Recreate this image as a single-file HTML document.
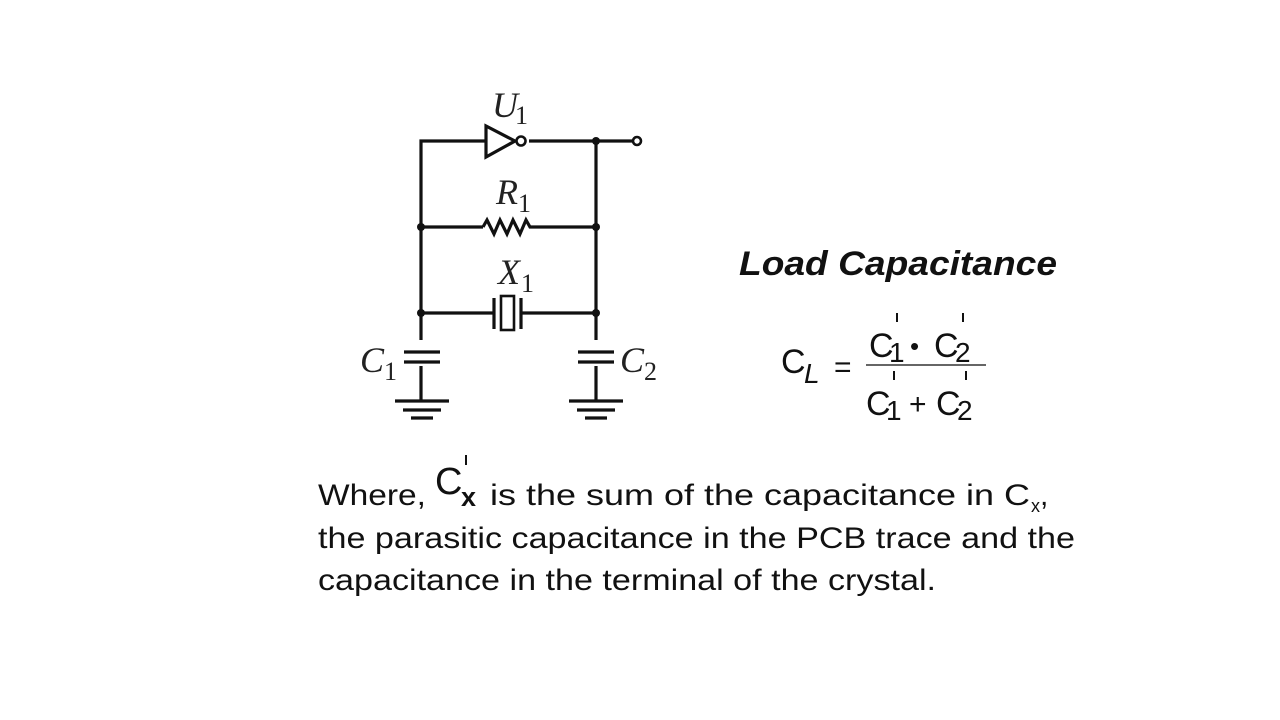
<!DOCTYPE html>
<html><head><meta charset="utf-8"><style>html,body{margin:0;padding:0;background:#fff;}svg{display:block}</style></head>
<body>
<svg width="1280" height="720" viewBox="0 0 1280 720" xmlns="http://www.w3.org/2000/svg">
<rect width="1280" height="720" fill="#fff"/>
<g stroke="#111" stroke-width="3.2" fill="none">
  <polyline points="421,401 421,141 486,141"/>
  <line x1="529" y1="141" x2="633" y2="141"/>
  <polygon points="486,126 486,157 515,141" fill="#fff"/>
  <circle cx="521" cy="141" r="4.5" fill="#fff" stroke-width="2.6"/>
  <circle cx="637" cy="141" r="4" fill="#fff" stroke-width="2.6"/>
  <line x1="596" y1="141" x2="596" y2="401"/>
  <line x1="421" y1="227" x2="483" y2="227"/>
  <polyline points="483,227 487,220 494,234 500,220 507,234 513,220 520,234 526,220 530,227 533,227"/>
  <line x1="533" y1="227" x2="596" y2="227"/>
  <line x1="421" y1="313" x2="494" y2="313"/>
  <line x1="494" y1="298" x2="494" y2="329"/>
  <rect x="501" y="296" width="13" height="34" stroke-width="2.6"/>
  <line x1="521" y1="298" x2="521" y2="329"/>
  <line x1="521" y1="313" x2="596" y2="313"/>
</g>
<g fill="#111">
  <circle cx="421" cy="227" r="4"/><circle cx="596" cy="227" r="4"/>
  <circle cx="421" cy="313" r="4"/><circle cx="596" cy="313" r="4"/>
  <circle cx="596" cy="141" r="4"/>
</g>
<g stroke="#111" stroke-width="3.2">
  <rect x="414" y="340" width="14" height="26" fill="#fff" stroke="none"/>
  <line x1="404" y1="352" x2="440" y2="352"/><line x1="404" y1="362" x2="440" y2="362"/>
  <rect x="589" y="340" width="14" height="26" fill="#fff" stroke="none"/>
  <line x1="578" y1="352" x2="614" y2="352"/><line x1="578" y1="362" x2="614" y2="362"/>
  <line x1="395" y1="401" x2="449" y2="401"/><line x1="403" y1="410" x2="441" y2="410"/><line x1="411" y1="418" x2="433" y2="418"/>
  <line x1="569" y1="401" x2="623" y2="401"/><line x1="577" y1="410" x2="615" y2="410"/><line x1="585" y1="418" x2="607" y2="418"/>
</g>
<g font-family="Liberation Serif, serif" fill="#222" font-size="36">
  <text x="492" y="117" font-style="italic">U</text><text x="515" y="124" font-size="26">1</text>
  <text x="496" y="204" font-style="italic">R</text><text x="518" y="212" font-size="26">1</text>
  <text x="498" y="284" font-style="italic">X</text><text x="521" y="292" font-size="26">1</text>
  <text x="360" y="372" font-style="italic">C</text><text x="384" y="380" font-size="26">1</text>
  <text x="620" y="372" font-style="italic">C</text><text x="644" y="380" font-size="26">2</text>
</g>
<g font-family="Liberation Sans, Arial, sans-serif" fill="#111">
  <text x="739" y="275" font-size="34" font-weight="bold" font-style="italic" textLength="318" lengthAdjust="spacingAndGlyphs">Load Capacitance</text>
  <text x="781" y="373" font-size="34">C</text><text x="804" y="383" font-size="28" font-style="italic">L</text>
  <text x="834" y="377" font-size="30">=</text>
  <line x1="866" y1="365" x2="986" y2="365" stroke="#333" stroke-width="1.5"/>
  <text x="869" y="357" font-size="34">C</text><text x="889" y="362" font-size="28">1</text>
  <text x="910" y="355" font-size="26">•</text>
  <text x="934" y="357" font-size="34">C</text><text x="955" y="362" font-size="28">2</text>
  <text x="866" y="415" font-size="34">C</text><text x="886" y="420" font-size="28">1</text>
  <text x="909" y="414" font-size="30">+</text>
  <text x="936" y="415" font-size="34">C</text><text x="957" y="420" font-size="28">2</text>
  <g stroke="#111" stroke-width="2">
    <line x1="897" y1="313" x2="897" y2="322"/><line x1="963" y1="313" x2="963" y2="322"/>
    <line x1="894" y1="371" x2="894" y2="380"/><line x1="966" y1="371" x2="966" y2="380"/>
    <line x1="466" y1="455" x2="466" y2="465"/>
  </g>
  <text x="318" y="505" font-size="30" textLength="108" lengthAdjust="spacingAndGlyphs">Where,</text>
  <text x="435" y="494" font-size="38">C</text>
  <text x="461" y="506" font-size="27" font-weight="bold">x</text>
  <text x="490" y="505" font-size="30" textLength="540" lengthAdjust="spacingAndGlyphs">is the sum of the capacitance in C</text>
  <text x="1031" y="512" font-size="18">x</text><text x="1040" y="505" font-size="30">,</text>
  <text x="318" y="548" font-size="30" textLength="757" lengthAdjust="spacingAndGlyphs">the parasitic capacitance in the PCB trace and the</text>
  <text x="318" y="590" font-size="30" textLength="618" lengthAdjust="spacingAndGlyphs">capacitance in the terminal of the crystal.</text>
</g>
</svg>
</body></html>
